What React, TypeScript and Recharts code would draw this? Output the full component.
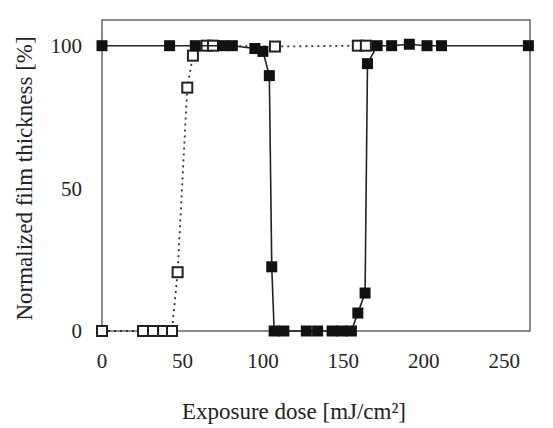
import { ScatterChart, Scatter, XAxis, YAxis, ReferenceArea } from "recharts"

// filled squares, solid line
const filledDose = [0, 42, 58, 75, 81, 95, 100, 104, 105.5, 107, 113, 127, 134, 143, 149, 155, 159, 163.5, 165, 171, 180, 191, 202, 211, 265]
const filledThickness = [100, 100, 100, 100, 100, 99, 98, 89.5, 22.5, 0, 0, 0, 0, 0, 0, 0, 6.3, 13.3, 93.7, 100, 100, 100.5, 100, 100, 100]

// open squares, dotted line
const openDose = [0, 25.5, 31.7, 38, 43.5, 47, 53, 56.5, 65, 69, 107.5, 159, 164]
const openThickness = [0, 0, 0, 0, 0, 20.6, 85.3, 96.5, 100, 100, 99.7, 100, 100]

const xTicks = [0, 50, 100, 150, 200, 250]
const yTicks = [0, 50, 100]

const filledData = filledDose.map((x, i) => ({ x, y: filledThickness[i] }))
const openData = openDose.map((x, i) => ({ x, y: openThickness[i] }))

const font = { fontSize: 21, fill: "#222", fontFamily: "Liberation Serif" }
const titleFont = { ...font, fontSize: 23 }

const FilledSquare = (props: any) => (
  <rect x={props.cx - 5.5} y={props.cy - 5.5} width={11} height={11} fill="#111" />
)

const OpenSquare = (props: any) => (
  <rect x={props.cx - 5} y={props.cy - 5} width={10} height={10} fill="#fff" stroke="#222" strokeWidth={2} />
)

export default function App() {
  return (
    <div style={{ position: "absolute", left: 0, top: 0, background: "#fff" }}>
      <ScatterChart width={553} height={428} margin={{ top: 20, right: 23, bottom: 33, left: 2 }}>
        <XAxis
          type="number"
          dataKey="x"
          domain={[0, 266]}
          ticks={xTicks}
          axisLine={false}
          tickLine={false}
          tickSize={0}
          tickMargin={22}
          tick={font}
          height={64}
          label={{ value: "Exposure dose [mJ/cm²]", position: "bottom", offset: 8, dx: -22, style: titleFont }}
        />
        <YAxis
          type="number"
          dataKey="y"
          domain={[0, 109]}
          ticks={yTicks}
          axisLine={false}
          tickLine={false}
          tickSize={0}
          tickMargin={20}
          tick={font}
          width={100}
          label={{
            value: "Normalized film thickness [%]",
            angle: -90,
            position: "insideLeft",
            offset: 22,
            dy: 3,
            style: { ...titleFont, textAnchor: "middle" },
          }}
        />
        <ReferenceArea x1={0} x2={266} y1={0} y2={109} fill="none" stroke="#666" strokeWidth={1.5} />
        <Scatter
          data={openData}
          line={{ stroke: "#333", strokeWidth: 1.8, strokeDasharray: "2 4" }}
          shape={OpenSquare}
          isAnimationActive={false}
        />
        <Scatter
          data={filledData}
          line={{ stroke: "#222", strokeWidth: 1.6 }}
          shape={FilledSquare}
          isAnimationActive={false}
        />
      </ScatterChart>
    </div>
  )
}
